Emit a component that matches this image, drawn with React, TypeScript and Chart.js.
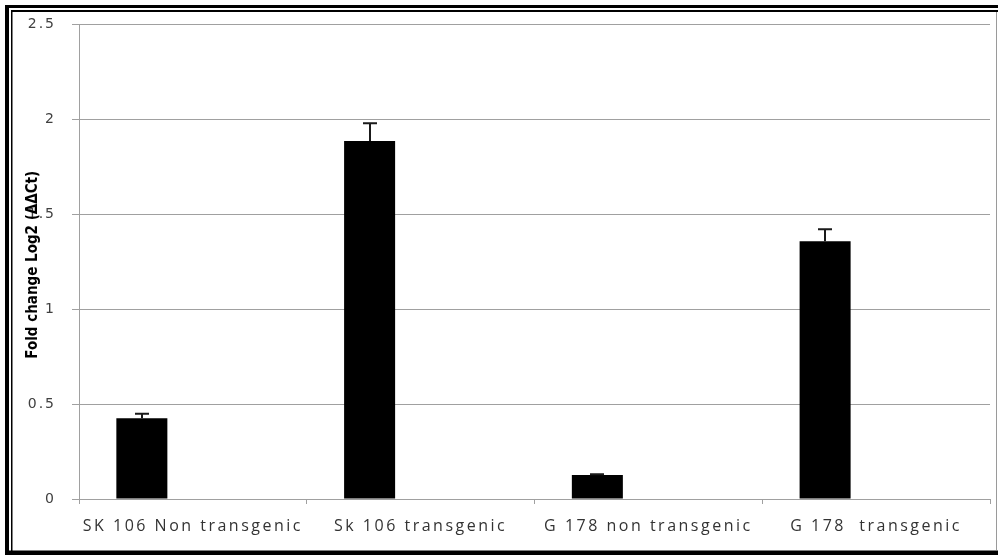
import React, { useEffect, useRef } from "react";
import { Chart, registerables } from "chart.js";

Chart.register(...registerables);

const categories = ["SK 106 Non transgenic", "Sk 106 transgenic", "G 178 non transgenic", "G 178  transgenic"];
const foldChange = [0.425, 1.886, 0.126, 1.358];
const errorUp = [0.024, 0.093, 0.005, 0.063];
const emptySeries = [null, null, null, null];
const yMin = 0;
const yMax = 2.5;
const yStep = 0.5;
const yTitle = "Fold change Log2 (ΔΔCt)";

const X_SPACING = "2.5px";
const Y_SPACING = "2px";

const decorPlugin = {
  id: "decor",
  beforeDraw(chart: any) {
    const ctx = chart.ctx;
    ctx.save();
    ctx.fillStyle = "#ffffff";
    ctx.fillRect(0, 0, chart.width, chart.height);
    ctx.restore();
    (ctx as any).letterSpacing = X_SPACING;
  },
  afterDatasetsDraw(chart: any) {
    const ctx = chart.ctx;
    const meta = chart.getDatasetMeta(0);
    const yScale = chart.scales.y;
    ctx.save();
    ctx.strokeStyle = "#1a1a1a";
    ctx.lineWidth = 2;
    meta.data.forEach((bar: any, i: number) => {
      const v = foldChange[i];
      const e = errorUp[i];
      if (v == null || e == null) return;
      const x = Math.round(bar.x);
      const yTop = yScale.getPixelForValue(v);
      const yErr = yScale.getPixelForValue(v + e);
      ctx.beginPath();
      ctx.moveTo(x, yTop);
      ctx.lineTo(x, yErr);
      ctx.moveTo(x - 7, yErr);
      ctx.lineTo(x + 7, yErr);
      ctx.stroke();
    });
    ctx.restore();
    (ctx as any).letterSpacing = Y_SPACING;
  },
  afterDraw(chart: any) {
    const ctx = chart.ctx;
    (ctx as any).letterSpacing = "0px";
    const area = chart.chartArea;
    // y-axis title
    ctx.save();
    ctx.translate(33, (area.top + area.bottom) / 2 + 3);
    ctx.rotate(-Math.PI / 2);
    ctx.font = "bold 15px 'DejaVu Sans Condensed', 'Liberation Sans Narrow', sans-serif";
    ctx.fillStyle = "#000";
    ctx.textAlign = "center";
    ctx.textBaseline = "middle";
    ctx.fillText(yTitle, 0, 0);
    ctx.restore();
    // frame
    ctx.save();
    ctx.fillStyle = "#000";
    ctx.fillRect(5, 5, chart.width - 5, 3);
    ctx.fillRect(11, 10, chart.width - 11, 2);
    ctx.fillRect(5, 5, 4, chart.height - 5);
    ctx.fillRect(11, 10, 1.5, chart.height - 14);
    ctx.fillRect(5, chart.height - 4.5, chart.width - 5, 4.5);
    ctx.fillStyle = "#9a9a9a";
    ctx.fillRect(996, 12, 1, chart.height - 17);
    ctx.restore();
  },
};

export default function App() {
  const ref = useRef<HTMLCanvasElement>(null);
  useEffect(() => {
    document.body.style.margin = "0";
    const canvas = ref.current!;
    const chart = new Chart(canvas, {
      type: "bar",
      data: {
        labels: categories,
        datasets: [
          { data: foldChange, backgroundColor: "#000000", borderWidth: 0 },
          { data: emptySeries, backgroundColor: "#000000" },
          { data: emptySeries, backgroundColor: "#000000" },
        ],
      },
      options: {
        responsive: false,
        animation: false,
        devicePixelRatio: 1,
        categoryPercentage: 0.672,
        barPercentage: 1,
        layout: { padding: { top: 23, right: 8, left: 0, bottom: 0 } },
        plugins: { legend: { display: false }, tooltip: { enabled: false }, title: { display: false } },
        scales: {
          x: {
            offset: true,
            grid: { display: true, drawOnChartArea: false, drawTicks: true, tickLength: 5, offset: true, color: "#a0a0a0" },
            border: { display: true, color: "#a0a0a0" },
            ticks: {
              z: 0,
              autoSkip: false,
              maxRotation: 0,
              minRotation: 0,
              padding: 13,
              color: "#333333",
              font: { family: "'Open Sans', sans-serif", size: 16 },
            },
            afterFit: (scale: any) => {
              scale.height = 56;
            },
          },
          y: {
            min: yMin,
            max: yMax,
            grid: { color: "#a0a0a0", tickLength: 7, drawTicks: true },
            border: { display: true, color: "#a0a0a0" },
            ticks: {
              z: 1,
              stepSize: yStep,
              padding: 16,
              color: "#404040",
              font: { family: "'DejaVu Sans', sans-serif", size: 14 },
              callback: (value: any) => String(Number(value)),
            },
            title: { display: false },
            afterFit: (scale: any) => {
              scale.width = 79;
            },
          },
        },
      },
      plugins: [decorPlugin],
    });
    return () => chart.destroy();
  }, []);
  return <canvas ref={ref} width={998} height={555} style={{ display: "block" }} />;
}
